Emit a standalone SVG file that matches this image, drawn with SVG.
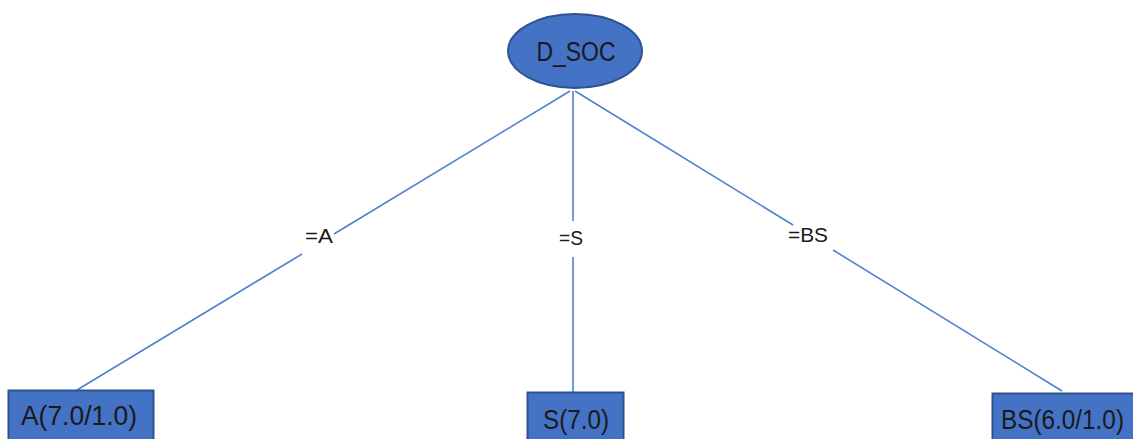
<svg xmlns="http://www.w3.org/2000/svg" width="1133" height="439" viewBox="0 0 1133 439">
  <style>
    .edge { stroke: #4F7FD0; stroke-width: 1.6; fill: none; }
    .node { fill: #4472C4; stroke: #2F528F; stroke-width: 2; }
    .ntext { font-family: "Liberation Sans", Arial, sans-serif; font-size: 27px; fill: #1a1a1a; }
    .elabel { font-family: "Liberation Sans", Arial, sans-serif; font-size: 21px; fill: #1a1a1a; text-anchor: middle; }
  </style>
  <rect width="1133" height="439" fill="#ffffff"/>

  <!-- connectors, broken where the branch labels sit -->
  <g id="connectors">
    <line class="edge" x1="570" y1="91" x2="334" y2="234"/>
    <line class="edge" x1="302" y1="254" x2="77" y2="390"/>
    <line class="edge" x1="573" y1="91" x2="573" y2="221"/>
    <line class="edge" x1="573" y1="257" x2="573" y2="392"/>
    <line class="edge" x1="575" y1="91" x2="793" y2="225"/>
    <line class="edge" x1="833" y1="250" x2="1062" y2="391"/>
    <text class="elabel" x="319" y="243" textLength="28" lengthAdjust="spacingAndGlyphs">=A</text>
    <text class="elabel" x="571" y="245" textLength="24" lengthAdjust="spacingAndGlyphs">=S</text>
    <text class="elabel" x="808" y="242" textLength="40" lengthAdjust="spacingAndGlyphs">=BS</text>
  </g>

  <g id="root">
    <ellipse class="node" cx="575" cy="51" rx="67" ry="37"/>
    <text class="ntext" x="576" y="61" text-anchor="middle" textLength="79" lengthAdjust="spacingAndGlyphs">D_SOC</text>
  </g>

  <g id="leaf-a">
    <rect class="node" x="8.5" y="390.5" width="145" height="60"/>
    <text class="ntext" x="21" y="425" textLength="116" lengthAdjust="spacingAndGlyphs">A(7.0/1.0)</text>
  </g>

  <g id="leaf-s">
    <rect class="node" x="527.5" y="392.5" width="96" height="60"/>
    <text class="ntext" x="543" y="429" textLength="66" lengthAdjust="spacingAndGlyphs">S(7.0)</text>
  </g>

  <g id="leaf-bs">
    <rect class="node" x="992.5" y="393.5" width="150" height="60"/>
    <text class="ntext" x="1001" y="429" font-size="26" textLength="123" lengthAdjust="spacingAndGlyphs">BS(6.0/1.0)</text>
  </g>
</svg>
